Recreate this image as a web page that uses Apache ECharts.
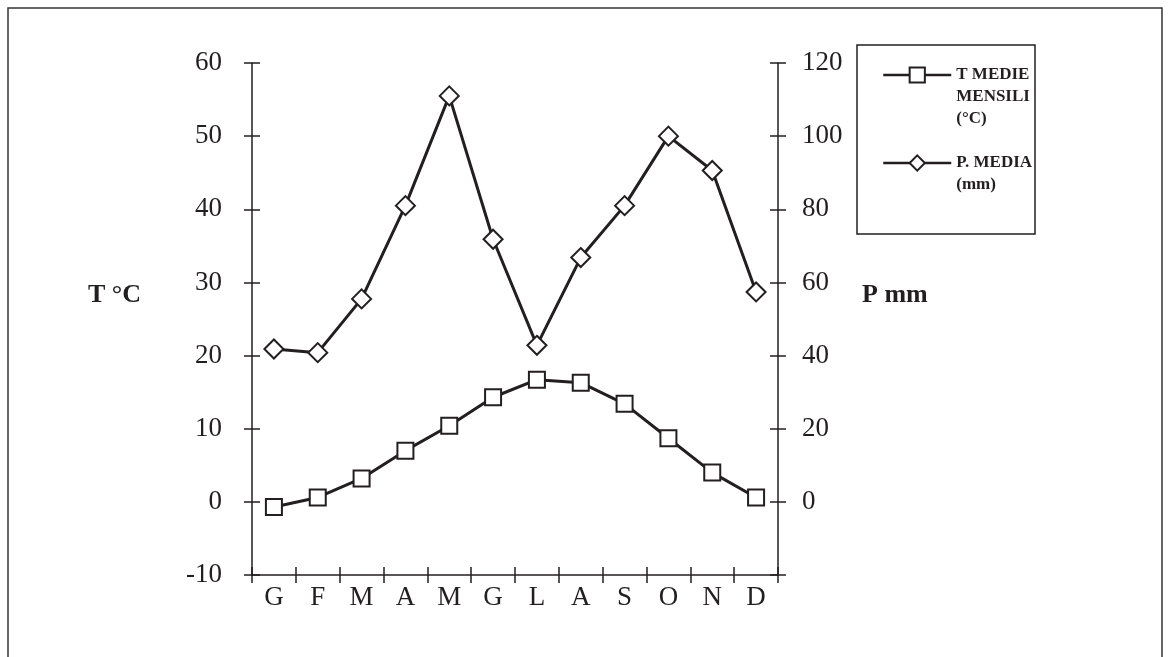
<!DOCTYPE html>
<html>
<head>
<meta charset="utf-8">
<script src="https://cdn.jsdelivr.net/npm/echarts@6/dist/echarts.min.js"></script>
<style>
html,body{margin:0;padding:0;background:#fff;}
#chart{width:1169px;height:657px;}
</style>
</head>
<body>
<div id="chart"></div>
<script>
// ---- data ----
const months = ['G','F','M','A','M','G','L','A','S','O','N','D'];
const tempMedie = [-0.7, 0.6, 3.2, 7.0, 10.4, 14.3, 16.7, 16.3, 13.4, 8.7, 4.0, 0.6];
const precMedia = [41.8, 40.8, 55.5, 81.0, 111.0, 71.8, 42.8, 66.8, 81.0, 100.0, 90.6, 57.4];
const tempTicks = {min: -10, max: 60, interval: 10};
const precTicks = {min: -20, max: 120, interval: 20};
const tempName = 'T MEDIE\nMENSILI\n(°C)';
const precName = 'P. MEDIA\n(mm)';

const INK = '#231f20';
const FONT = '"Liberation Serif", "DejaVu Serif", serif';

const chart = echarts.init(document.getElementById('chart'), null, {renderer: 'canvas'});

function yAxisPair(pos, t) {
  const base = {
    type: 'value', position: pos, min: t.min, max: t.max, interval: t.interval,
    splitLine: {show: false}
  };
  return [
    Object.assign({}, base, {
      axisLine: {show: true, lineStyle: {color: INK, width: 1.5}},
      axisTick: {show: true, inside: false, length: 8, lineStyle: {color: INK, width: 1.5}},
      axisLabel: {
        show: true, margin: pos === 'left' ? 30 : 24,
        color: INK, fontFamily: FONT, fontSize: 27,
        formatter: v => (v < 0 && pos === 'right') ? '' : String(v)
      }
    }),
    Object.assign({}, base, {
      axisLine: {show: false},
      axisTick: {show: true, inside: true, length: 8, lineStyle: {color: INK, width: 1.5}},
      axisLabel: {show: false}
    })
  ];
}

const yAxes = [].concat(yAxisPair('left', tempTicks), yAxisPair('right', precTicks));

// pad legend labels so that the first text line sits on the legend icon
function legendLabel(name) {
  const n = name.split('\n').length;
  return '\n'.repeat(n - 1) + name;
}

const option = {
  backgroundColor: '#fff',
  animation: false,
  textStyle: {fontFamily: FONT, color: INK},
  grid: {left: 252, right: 391, top: 63, bottom: 82, containLabel: false},
  xAxis: [
    {
      type: 'category', data: months, position: 'bottom', boundaryGap: true,
      axisLine: {show: true, onZero: false, lineStyle: {color: INK, width: 1.5}},
      axisTick: {show: true, inside: false, length: 8, lineStyle: {color: INK, width: 1.5}},
      axisLabel: {show: true, margin: 9, color: INK, fontFamily: FONT, fontSize: 27}
    },
    {
      type: 'category', data: months, position: 'bottom', boundaryGap: true,
      axisLine: {show: false, onZero: false},
      axisTick: {show: true, inside: true, length: 8, lineStyle: {color: INK, width: 1.5}},
      axisLabel: {show: false}
    }
  ],
  yAxis: yAxes,
  legend: {
    orient: 'vertical', left: 882, top: 20, padding: 0, itemGap: 0,
    itemWidth: 68, itemHeight: 19,
    lineStyle: {width: 2.5},
    formatter: legendLabel,
    textStyle: {fontFamily: FONT, fontSize: 17, fontWeight: 'bold', color: INK, lineHeight: 22},
    data: [tempName, precName]
  },
  graphic: [
    {type: 'rect', shape: {x: 8, y: 8, width: 1154, height: 700}, style: {fill: 'none', stroke: '#333', lineWidth: 1.5}, silent: true},
    {type: 'rect', shape: {x: 857, y: 45, width: 178, height: 189}, style: {fill: 'none', stroke: INK, lineWidth: 1.5}, silent: true},
    {type: 'text', left: 88, top: 282, style: {text: 'T °C', font: 'bold 26px ' + FONT, fill: INK}},
    {type: 'text', left: 862, top: 282, style: {text: 'P mm', font: 'bold 26px ' + FONT, fill: INK}}
  ],
  series: [
    {
      name: tempName, type: 'line', xAxisIndex: 0, yAxisIndex: 0, data: tempMedie,
      symbol: 'emptyRect', symbolSize: 16,
      lineStyle: {color: INK, width: 3},
      itemStyle: {color: INK, borderWidth: 2}
    },
    {
      name: precName, type: 'line', xAxisIndex: 0, yAxisIndex: 2, data: precMedia,
      symbol: 'emptyDiamond', symbolSize: 19,
      lineStyle: {color: INK, width: 3},
      itemStyle: {color: INK, borderWidth: 2}
    }
  ]
};
chart.setOption(option);
</script>
</body>
</html>
